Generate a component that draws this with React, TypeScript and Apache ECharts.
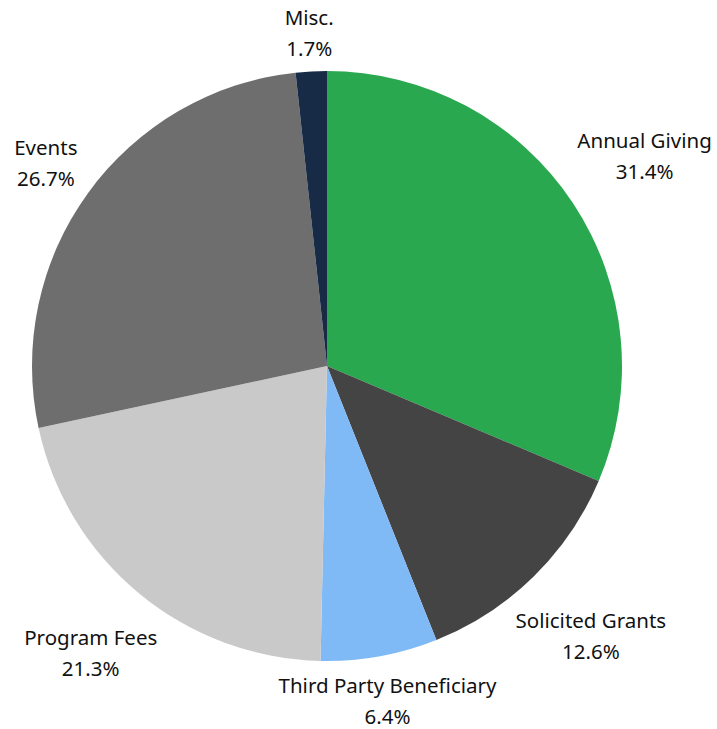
import React, { useEffect, useRef } from "react";
import * as echarts from "echarts";

const categories = ["Annual Giving", "Solicited Grants", "Third Party Beneficiary", "Program Fees", "Events", "Misc."];
const values = [31.4, 12.6, 6.4, 21.3, 26.7, 1.7];
const colors = ["#2aa84f", "#444444", "#80baf6", "#c9c9c9", "#6e6e6e", "#172a46"];
const labelLengths = [86, 82, 45, 76, 52, 39];

export default function App() {
  const ref = useRef<HTMLDivElement>(null);
  useEffect(() => {
    document.body.style.margin = "0";
    const chart = echarts.init(ref.current!, null, { renderer: "svg" });
    chart.setOption({
      animation: false,
      backgroundColor: "#ffffff",
      series: [
        {
          type: "pie",
          center: [327, 366],
          radius: 295,
          startAngle: 90,
          clockwise: true,
          avoidLabelOverlap: false,
          data: categories.map((name, i) => ({
            name,
            value: values[i],
            itemStyle: { color: colors[i] },
            labelLine: { show: false, length: labelLengths[i], length2: 0 },
          })),
          label: {
            show: true,
            position: "outside",
            distanceToLabelLine: 0,
            formatter: (p: any) => `${p.name}\n${p.value.toFixed(1)}%`,
            fontFamily: "Noto Sans",
            fontSize: 20.5,
            lineHeight: 31,
            color: "#111111",
            align: "center",
          },
          labelLayout: () => ({ align: "center", verticalAlign: "middle" }),
        },
      ],
    });
    return () => chart.dispose();
  }, []);
  return <div ref={ref} style={{ width: 717, height: 729 }} />;
}
